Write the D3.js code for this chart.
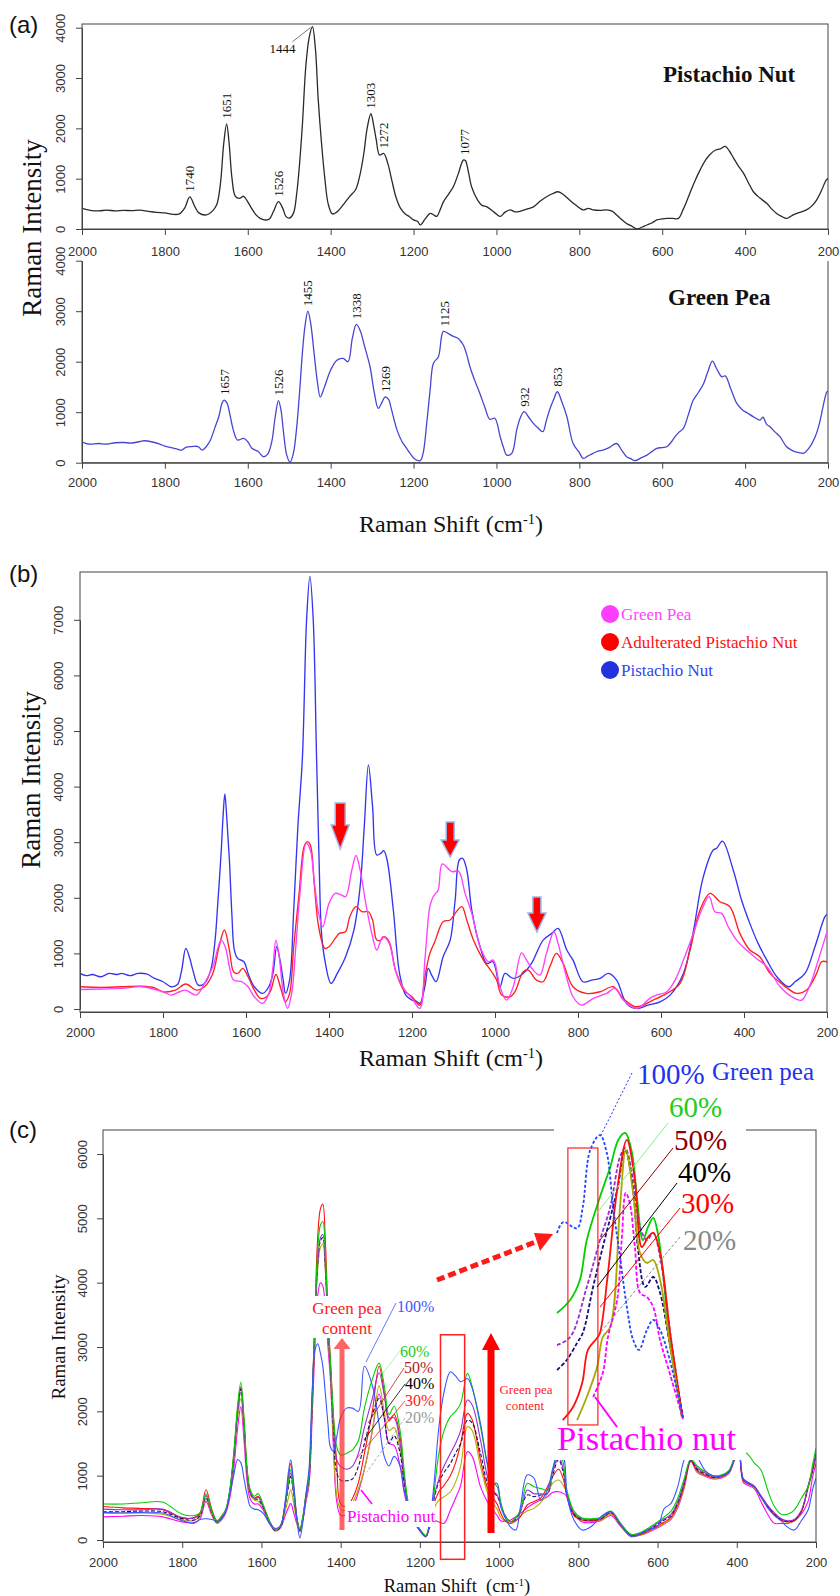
<!DOCTYPE html>
<html><head><meta charset="utf-8">
<script src="https://cdn.jsdelivr.net/npm/d3@7"></script>
<style>body{margin:0;background:#fff}</style>
</head><body><svg id="chart" width="840" height="1596"></svg>
<script>
// ---------------- DATA ----------------
const xTickVals = [2000,1800,1600,1400,1200,1000,800,600,400,200];
const yTicksA = [0,1000,2000,3000,4000];
const yTicksB = [0,1000,2000,3000,4000,5000,6000,7000];
const yTicksC = [0,1000,2000,3000,4000,5000,6000];

// (a) Pistachio nut spectrum [shift, intensity]
const pistachioA = [[2000,410],[1980,370],[1960,360],[1940,375],[1920,360],[1900,370],[1880,365],[1860,375],[1840,350],[1820,330],[1800,320],[1780,290],[1765,300],[1752,420],[1740,640],[1728,450],[1718,320],[1700,280],[1685,360],[1675,480],[1666,900],[1658,1700],[1651,2090],[1645,1700],[1638,1000],[1630,650],[1620,610],[1610,650],[1600,540],[1590,400],[1580,280],[1570,210],[1560,180],[1548,200],[1538,350],[1526,543],[1516,420],[1508,250],[1500,215],[1490,310],[1482,700],[1475,1300],[1468,2100],[1460,3230],[1452,3800],[1444,4020],[1437,3600],[1430,2570],[1422,1700],[1414,1000],[1406,500],[1396,300],[1385,340],[1370,480],[1355,640],[1340,780],[1330,1050],[1320,1500],[1312,2000],[1303,2290],[1296,2050],[1290,1770],[1282,1470],[1272,1500],[1262,1300],[1252,950],[1242,620],[1232,420],[1220,300],[1210,245],[1200,180],[1190,150],[1184,80],[1172,200],[1160,310],[1150,270],[1144,250],[1135,400],[1128,540],[1115,700],[1104,840],[1092,1100],[1080,1370],[1075,1360],[1068,1150],[1060,840],[1045,570],[1035,470],[1023,440],[1005,330],[991,250],[980,330],[967,380],[955,340],[943,350],[925,400],[911,440],[895,550],[879,640],[865,700],[851,740],[838,680],[823,570],[808,470],[791,380],[778,410],[767,380],[750,370],[734,380],[720,350],[710,280],[698,190],[686,110],[672,50],[661,0],[648,40],[637,80],[625,120],[613,180],[600,200],[589,210],[575,210],[561,210],[550,380],[540,570],[530,780],[520,975],[510,1150],[500,1310],[486,1470],[471,1570],[460,1590],[448,1640],[438,1550],[428,1410],[416,1250],[404,1110],[392,920],[380,740],[365,620],[348,510],[336,400],[324,310],[312,250],[300,210],[292,240],[284,280],[268,330],[252,380],[240,450],[228,570],[216,760],[204,975],[200,1000]];
// (a) Green pea spectrum
const greenPeaA = [[2000,415],[1985,370],[1960,380],[1940,370],[1920,395],[1900,400],[1880,390],[1860,420],[1850,435],[1830,410],[1810,360],[1800,330],[1785,300],[1770,270],[1760,250],[1748,310],[1735,320],[1720,320],[1710,250],[1700,320],[1690,450],[1680,680],[1670,910],[1662,1180],[1657,1240],[1650,1180],[1643,950],[1635,650],[1625,450],[1610,480],[1600,415],[1590,285],[1575,220],[1562,120],[1552,170],[1542,420],[1534,900],[1526,1230],[1520,1050],[1514,620],[1506,150],[1498,10],[1490,185],[1482,700],[1475,1400],[1468,2200],[1462,2700],[1455,3000],[1448,2750],[1440,2165],[1432,1600],[1425,1300],[1415,1500],[1400,1835],[1385,2030],[1370,2065],[1358,2000],[1348,2450],[1338,2740],[1328,2600],[1320,2360],[1305,1900],[1295,1400],[1285,1075],[1276,1200],[1269,1300],[1260,1250],[1255,1110],[1240,650],[1228,420],[1218,300],[1208,180],[1198,80],[1184,40],[1177,185],[1168,800],[1160,1440],[1152,1970],[1140,2100],[1128,2600],[1115,2550],[1104,2500],[1092,2460],[1080,2330],[1072,2150],[1064,1900],[1052,1620],[1040,1370],[1028,1100],[1016,860],[1004,880],[991,515],[983,300],[975,150],[963,185],[951,650],[942,900],[933,1010],[922,900],[911,780],[900,690],[888,615],[880,820],[872,1040],[862,1250],[853,1405],[842,1200],[830,910],[815,380],[800,200],[791,85],[780,130],[767,185],[755,230],[743,250],[728,300],[710,380],[698,250],[686,120],[676,80],[666,40],[650,100],[637,150],[625,220],[613,285],[600,300],[589,315],[579,400],[569,515],[560,600],[549,680],[537,950],[525,1240],[512,1400],[500,1570],[490,1800],[479,2010],[468,1850],[456,1700],[448,1720],[434,1450],[420,1175],[407,1050],[393,975],[378,900],[364,845],[357,900],[348,760],[340,710],[328,610],[316,515],[300,315],[290,260],[280,220],[270,200],[260,185],[245,300],[231,515],[220,800],[212,1110],[203,1400],[200,1420]];
const peakLabelsPistachio = [1740,1651,1526,1303,1272,1077];
const peakLabelMain = 1444;
const peakLabelsPea = [1657,1526,1455,1338,1269,1125,932,853];

// (b)
const pistachioB = [[2000,640],[1985,600],[1970,620],[1950,580],[1930,640],[1910,620],[1900,640],[1880,600],[1860,640],[1840,630],[1820,550],[1800,490],[1780,400],[1765,440],[1755,700],[1745,1090],[1735,900],[1728,700],[1715,430],[1700,460],[1685,700],[1675,1200],[1668,1900],[1660,2800],[1655,3500],[1651,3870],[1646,3400],[1640,2680],[1634,1700],[1628,1060],[1620,910],[1605,850],[1595,640],[1580,400],[1560,280],[1545,400],[1535,640],[1526,1120],[1518,880],[1510,500],[1505,280],[1495,520],[1485,1780],[1475,3280],[1464,4530],[1454,7000],[1446,7780],[1438,7000],[1430,4530],[1424,2700],[1418,1360],[1410,880],[1395,460],[1380,640],[1360,940],[1340,1420],[1325,2200],[1315,3280],[1305,4390],[1295,3640],[1285,2770],[1275,2800],[1268,2850],[1260,2680],[1245,1780],[1230,640],[1215,250],[1200,160],[1190,140],[1181,100],[1169,400],[1161,730],[1152,600],[1142,490],[1125,940],[1108,1240],[1096,1960],[1086,2680],[1078,2710],[1068,2500],[1056,1780],[1036,1120],[1020,820],[1005,850],[988,400],[976,640],[956,550],[932,640],[912,820],[884,1240],[863,1360],[848,1450],[827,1060],[812,880],[788,490],[767,520],[747,550],[727,640],[707,520],[683,100],[659,10],[631,70],[602,130],[578,250],[546,640],[523,1360],[499,2350],[474,2860],[466,2890],[452,3020],[426,2500],[406,1960],[386,1540],[366,1180],[345,880],[321,580],[292,400],[277,490],[253,640],[229,1120],[205,1660],[200,1700]];
const adulteratedB = [[2000,400],[1950,390],[1900,400],[1850,410],[1820,380],[1800,310],[1770,340],[1745,450],[1720,340],[1700,400],[1680,640],[1665,1120],[1652,1420],[1640,1060],[1630,670],[1620,640],[1608,730],[1595,580],[1580,340],[1565,190],[1550,220],[1540,340],[1528,620],[1515,340],[1505,130],[1495,280],[1485,1120],[1472,2080],[1460,2920],[1452,3010],[1445,2950],[1435,2200],[1425,1480],[1410,1090],[1400,1120],[1385,1270],[1375,1360],[1360,1390],[1350,1660],[1335,1840],[1320,1750],[1305,1750],[1295,1600],[1285,1240],[1275,1240],[1268,1300],[1255,1210],[1240,700],[1220,340],[1200,220],[1181,70],[1169,580],[1157,1000],[1145,1210],[1125,1570],[1108,1600],[1096,1720],[1080,1840],[1068,1600],[1052,1240],[1028,880],[1008,670],[996,520],[984,250],[964,220],[952,310],[932,670],[920,700],[900,520],[884,490],[868,760],[852,1000],[836,820],[812,400],[780,280],[747,310],[715,400],[691,190],[659,40],[619,160],[586,280],[554,460],[530,1060],[506,1780],[482,2080],[458,1930],[434,1840],[410,1360],[386,1060],[362,940],[337,640],[305,430],[273,280],[249,340],[225,640],[213,850],[200,850]];
const greenPeaB = [[2000,350],[1950,360],[1900,370],[1850,400],[1800,310],[1780,250],[1760,310],[1745,340],[1720,250],[1700,460],[1680,760],[1660,1240],[1650,1120],[1640,760],[1630,520],[1610,490],[1595,400],[1580,220],[1560,100],[1545,280],[1535,760],[1528,1240],[1520,940],[1510,280],[1500,10],[1490,280],[1480,1120],[1470,2080],[1455,2980],[1445,2860],[1435,2260],[1425,1720],[1415,1480],[1400,1900],[1385,2080],[1370,2050],[1360,2020],[1345,2500],[1335,2760],[1325,2500],[1310,1840],[1295,1300],[1285,1060],[1270,1300],[1255,1180],[1240,700],[1220,370],[1200,190],[1181,10],[1169,880],[1157,1840],[1149,2020],[1137,2140],[1127,2610],[1104,2470],[1088,2480],[1072,2080],[1056,1720],[1036,1120],[1016,850],[1004,880],[988,400],[972,160],[956,400],[936,1010],[924,880],[908,700],[892,610],[876,1000],[858,1390],[848,1180],[828,580],[812,220],[792,70],[763,190],[731,280],[711,370],[691,160],[659,10],[627,190],[611,250],[586,310],[566,520],[546,880],[522,1360],[502,1780],[484,2020],[470,1750],[454,1720],[438,1480],[418,1240],[394,1060],[370,910],[345,760],[313,400],[285,220],[261,160],[241,430],[221,880],[200,1390]];
const legendB = ["Green Pea","Adulterated Pistachio Nut","Pistachio Nut"];
// red arrows in (b): shift, intensity of top, intensity of tip
const arrowsB = [[1373,3705,2878],[1108,3363,2734],[899,2014,1385]];

// (c) mixtures, on a shared shift grid
const shiftC = [2000,1950,1900,1850,1800,1770,1755,1740,1725,1712,1700,1690,1680,1670,1660,1652,1644,1636,1628,1618,1608,1595,1580,1565,1552,1540,1532,1526,1519,1510,1503,1495,1488,1480,1472,1465,1458,1451,1445,1439,1432,1426,1418,1410,1400,1385,1370,1355,1340,1320,1303,1290,1278,1265,1250,1240,1230,1215,1200,1185,1175,1165,1152,1139,1123,1110,1097,1080,1068,1047,1030,1017,1005,996,985,971,958,946,929,912,895,878,865,850,838,828,811,790,768,743,718,693,667,642,620,600,583,566,549,533,516,500,480,460,440,420,406,395,384,372,356,339,322,305,288,272,255,237,220,208,200];
const pea100C = [430,420,430,420,300,260,320,330,320,290,330,450,700,1000,1250,1200,950,700,520,480,470,410,260,180,220,600,1050,1245,900,300,30,300,700,1100,2300,2950,3050,2900,2700,2300,1800,1450,1380,1600,1900,2050,2050,2000,2700,2400,1800,1300,1150,1300,1150,780,560,300,150,50,300,830,1760,2300,2615,2550,2460,2510,2360,1810,1190,880,880,520,350,200,155,520,1010,960,620,780,1090,1350,1300,673,310,155,207,363,440,233,52,104,170,207,490,570,830,1245,1450,1300,1080,1000,990,1060,1260,1400,950,880,829,673,500,380,300,200,155,300,466,800,960];
const pea60C = [560,560,580,590,400,380,420,720,450,300,380,480,780,1350,2100,2450,1900,1100,780,680,720,540,300,160,220,560,900,1090,800,330,170,380,700,1000,2200,3400,4500,4900,4950,4500,3400,2800,1900,1450,1320,1350,1400,1550,2050,2500,2750,2400,1950,2080,1700,1100,600,320,170,70,280,700,1350,1700,1917,2000,2124,2590,2383,1761,1191,907,829,600,363,285,350,466,880,829,800,777,1100,1400,1200,750,450,340,330,350,450,260,90,120,200,280,360,450,650,950,1260,1150,1060,1000,1010,1080,1290,1450,1380,1330,1200,1088,777,520,400,400,466,650,829,1191,1425];
const pea50C = [480,470,470,480,350,340,400,690,430,290,360,460,750,1300,2000,2300,1800,1050,740,650,660,520,290,160,210,540,860,1040,760,310,160,360,650,950,2100,3300,4300,4700,4750,4300,3300,2700,1800,1250,1140,1100,1150,1350,1750,2200,2600,2250,1900,1900,1500,1000,580,310,160,60,260,650,950,1150,1347,1500,1700,2176,2100,1554,1000,780,700,560,380,285,340,440,777,720,720,720,1050,1300,1100,700,420,330,320,340,440,250,80,110,180,260,330,400,600,900,1250,1120,1040,990,1000,1070,1270,1400,960,900,840,690,540,420,330,300,320,460,840,1120,1350];
const pea40C = [440,440,450,440,330,310,380,660,420,280,350,450,740,1280,2000,2350,1800,1050,730,640,630,500,280,150,200,520,820,985,720,300,150,350,650,950,2100,3300,4300,4650,4700,4300,3300,2700,1700,1050,930,920,950,1150,1500,1950,2200,1900,1500,1620,1350,900,560,300,150,60,250,620,900,1050,1191,1350,1500,1865,1820,1347,900,760,680,550,380,285,330,466,700,673,700,720,1000,1250,1050,680,400,320,310,330,430,240,80,100,170,240,310,380,580,880,1240,1100,1030,980,990,1060,1260,1400,950,890,830,680,530,410,320,290,310,450,830,1100,1340];
const pea30C = [520,500,490,470,340,350,420,780,470,300,370,460,760,1300,2050,2380,1850,1050,740,650,680,520,300,160,220,580,960,1190,850,320,160,370,680,1000,2200,3500,4700,5150,5220,4700,3500,2800,1900,1200,560,520,650,900,1350,2000,2700,2300,1850,1950,1600,1000,580,310,160,60,250,560,750,850,1000,1200,1502,1968,1870,1243,820,670,560,420,300,259,300,363,544,600,650,829,985,1100,950,650,380,310,300,320,420,230,70,90,150,220,280,350,550,850,1230,1080,1010,970,980,1050,1250,1380,930,880,829,673,520,400,311,285,300,440,829,1100,1347];
const pea20C = [415,420,420,400,310,300,370,640,400,270,340,440,720,1250,1900,2200,1700,1000,700,620,600,490,280,150,200,450,650,780,580,270,140,340,620,900,2000,3200,4200,4550,4600,4200,3200,2600,1500,700,480,470,580,800,1100,1700,2400,2000,1700,1750,1400,900,540,290,150,50,230,480,620,673,750,900,1150,1761,1700,1140,750,590,480,350,290,260,300,380,450,492,580,725,880,932,850,725,420,300,290,300,400,220,60,80,140,200,260,330,520,820,1230,1060,1000,960,970,1040,1240,1380,930,870,820,660,510,390,300,280,290,430,800,1080,1300];
const pistachioC = [360,370,380,360,280,270,330,600,380,260,320,420,650,1100,1750,2070,1550,900,630,560,560,460,260,140,190,380,500,570,430,240,130,320,580,850,1900,3000,3800,4000,3950,3600,3000,2500,1400,600,380,400,500,750,1100,1700,2270,1900,1500,1470,1150,750,500,280,140,50,200,300,280,259,466,650,850,1373,1300,829,600,480,380,300,290,311,360,414,500,570,620,673,740,751,725,673,400,280,270,300,380,210,60,80,130,190,250,320,500,800,1220,1050,990,950,960,1030,1240,1350,900,850,800,600,400,259,259,259,300,400,600,1000,1191];
const labelsC = ["100%","60%","50%","40%","30%","20%"];

// (c) inset: zoomed view of 1200–980 cm-1
const inset100 = [[1200,1945],[1189,2025],[1165,1980],[1155,2135],[1142,2553],[1125,2663],[1113,2531],[1102,2135],[1090,1769],[1078,1402],[1067,1160],[1057,1087],[1043,1233],[1032,1307],[1020,1233],[1003,1013],[980,588]];
const inset60 = [[1200,1358],[1177,1453],[1160,1600],[1148,1893],[1125,2209],[1107,2429],[1093,2627],[1081,2678],[1069,2531],[1060,2187],[1050,1893],[1041,1989],[1032,2055],[1024,1945],[1015,1651],[1006,1285],[982,600]];
const inset50 = [[1200,1123],[1177,1182],[1148,1549],[1125,1893],[1107,2135],[1090,2502],[1081,2568],[1067,2333],[1055,1989],[1043,1893],[1032,1945],[1020,1769],[1002,1200],[981,594]];
const inset40 = [[1200,940],[1183,1013],[1165,1138],[1155,1211],[1137,1549],[1120,1842],[1095,2260],[1081,2553],[1067,2260],[1059,1842],[1046,1549],[1032,1622],[1020,1505],[1002,1100],[980,590]];
const inset30 = [[1190,573],[1172,669],[1156,845],[1146,1087],[1130,1175],[1125,1211],[1111,1651],[1095,2260],[1078,2627],[1064,2333],[1052,1842],[1041,1915],[1032,1945],[1020,1798],[1002,1200],[981,600]];
const inset20 = [[1165,573],[1148,742],[1130,962],[1120,1182],[1107,1255],[1090,2135],[1080,2553],[1067,2238],[1055,1798],[1043,1725],[1032,1747],[1020,1600],[1002,1100],[982,590]];
const insetPistachio = [[1137,742],[1120,918],[1111,1182],[1095,1453],[1087,1893],[1080,2238],[1073,2165],[1064,1842],[1055,1505],[1043,1475],[1032,1402],[1020,1160],[1002,900],[980,580]];

// ---------------- DRAW ----------------
const svg = d3.select("#chart");
svg.append("rect").attr("width",840).attr("height",1596).attr("fill","#fff");
const serif = "'Liberation Serif','Times New Roman',serif";
const sans = "'Liberation Sans',Arial,sans-serif";
const defs = svg.append("defs");
function clip(id,x,y,w,h){defs.append("clipPath").attr("id",id).append("rect").attr("x",x).attr("y",y).attr("width",w).attr("height",h);}

const xA = d3.scaleLinear().domain([2000,200]).range([82,828]);
const yA1 = d3.scaleLinear().domain([0,4000]).range([229,27.7]);
const yA2 = d3.scaleLinear().domain([0,4000]).range([462.7,260.7]);
const xB = d3.scaleLinear().domain([2000,200]).range([80,827]);
const yB = d3.scaleLinear().domain([0,7000]).range([1009,619.8]);
const xC = d3.scaleLinear().domain([2000,200]).range([103,816]);
const yC = d3.scaleLinear().domain([0,6000]).range([1540,1154]);
const xI = d3.scaleLinear().domain([1200,980]).range([557,683]);
const yI = d3.scaleLinear().domain([500,2700]).range([1430,1130]);

clip("cA1",82,22,746,207); clip("cA2",82,255,746,208); clip("cB",80,572,747,440); clip("cC",103,1130,713,412);

function drawLine(data,x,y,color,w,dash,cp){
  svg.append("path").datum(data)
    .attr("d",d3.line().x(d=>x(d[0])).y(d=>y(d[1])).curve(d3.curveCatmullRom.alpha(0.5)))
    .attr("fill","none").attr("stroke",color).attr("stroke-width",w)
    .attr("stroke-linejoin","round")
    .attr("stroke-dasharray",dash||null).attr("clip-path",cp?`url(#${cp})`:null);
}
function axes(x,y,yTicks,axisY,axisX,pad,yOff,fs){
  const gx = svg.append("g").attr("transform",`translate(0,${axisY})`)
    .call(d3.axisBottom(x).tickValues(xTickVals).tickSize(6).tickSizeOuter(0).tickPadding(pad).tickFormat(d3.format("d")));
  const gy = svg.append("g").attr("transform",`translate(${axisX},0)`)
    .call(d3.axisLeft(y).tickValues(yTicks).tickSize(6).tickSizeOuter(0).tickFormat(d3.format("d")));
  gy.selectAll(".tick text").attr("transform","rotate(-90)").attr("x",0).attr("y",-yOff).attr("dy",0).attr("text-anchor","middle");
  [gx,gy].forEach(g=>{g.attr("font-family",sans).attr("font-size",fs);
    g.selectAll("text").attr("fill","#333"); g.selectAll("line,path").attr("stroke","#444");});
}
function vtext(x,y,txt,fs,anchor){
  return svg.append("text").attr("transform",`translate(${x},${y}) rotate(-90)`)
    .attr("text-anchor",anchor||"middle").attr("font-family",serif).attr("font-size",fs).attr("fill","#111").text(txt);
}
function shiftTitle(cx,by,fs,gap){
  const t = svg.append("text").attr("x",cx).attr("y",by).attr("text-anchor","middle")
    .attr("font-family",serif).attr("font-size",fs).attr("fill","#111");
  t.append("tspan").text(gap?"Raman Shift\u00a0\u00a0(cm":"Raman Shift (cm");
  t.append("tspan").attr("baseline-shift","super").attr("font-size","0.6em").text("-1");
  t.append("tspan").text(")");
}
function panelTag(x,y,t){svg.append("text").attr("x",x).attr("y",y).attr("font-family",sans).attr("font-size",24).attr("fill","#111").text(t);}
function peakVal(data,cm){return d3.max(data.filter(d=>Math.abs(d[0]-cm)<=6),d=>d[1]);}

// ===== Panel (a) =====
panelTag(9,33,"(a)");
svg.append("rect").attr("x",82).attr("y",24).attr("width",746).attr("height",205).attr("fill","none").attr("stroke","#444");
svg.append("path").attr("d","M828,261V462.7H82V261").attr("fill","none").attr("stroke","#444");
drawLine(pistachioA,xA,yA1,"#2a2a2a",1.3,null,"cA1");
drawLine(greenPeaA,xA,yA2,"#4646d2",1.3,null,"cA2");
axes(xA,yA1,yTicksA,229,82,12,17,13);
axes(xA,yA2,yTicksA,462.7,82,9,17,13);
peakLabelsPistachio.forEach(cm=>{
  svg.append("text").attr("transform",`translate(${xA(cm)},${yA1(peakVal(pistachioA,cm))-5}) rotate(-90)`)
    .attr("dy","0.35em").attr("font-family",serif).attr("font-size",13).attr("fill","#111").text(cm);
});
{
  const px = xA(peakLabelMain), py = yA1(peakVal(pistachioA,peakLabelMain));
  svg.append("line").attr("x1",px-20).attr("y1",py+15).attr("x2",px-2).attr("y2",py+1).attr("stroke","#555").attr("stroke-width",0.8);
  svg.append("text").attr("x",px-43).attr("y",py+26).attr("font-family",serif).attr("font-size",13).attr("fill","#111").text(peakLabelMain);
}
peakLabelsPea.forEach(cm=>{
  svg.append("text").attr("transform",`translate(${xA(cm)},${yA2(peakVal(greenPeaA,cm))-5}) rotate(-90)`)
    .attr("dy","0.35em").attr("font-family",serif).attr("font-size",13).attr("fill","#111").text(cm);
});
svg.append("text").attr("x",663).attr("y",82).attr("font-family",serif).attr("font-weight","bold").attr("font-size",23).attr("fill","#111").text("Pistachio Nut");
svg.append("text").attr("x",668).attr("y",305).attr("font-family",serif).attr("font-weight","bold").attr("font-size",23).attr("fill","#111").text("Green Pea");
vtext(41,228,"Raman Intensity",27);
shiftTitle(451,532,24);

// ===== Panel (b) =====
panelTag(9,582,"(b)");
svg.append("rect").attr("x",80).attr("y",572).attr("width",747).attr("height",440).attr("fill","none").attr("stroke","#444");
const colB = ["#ff40ff","#ff2020","#3535f0"];
drawLine(pistachioB,xB,yB,colB[2],1.35,null,"cB");
drawLine(adulteratedB,xB,yB,colB[1],1.35,null,"cB");
drawLine(greenPeaB,xB,yB,colB[0],1.35,null,"cB");
axes(xB,yB,yTicksB,1012,80,10,17,13);
const arrowShape = [[10,24],[8,17],[8,19]];
arrowsB.forEach((a,i)=>{
  const x = xB(a[0]), y0 = yB(a[1]), y1 = yB(a[2]), sw = arrowShape[i][0]/2, hl = arrowShape[i][1], hw = 9;
  svg.append("path").attr("d",`M${x-sw},${y0}H${x+sw}V${y1-hl}H${x+hw}L${x},${y1}L${x-hw},${y1-hl}H${x-sw}Z`)
    .attr("fill","#ff0000").attr("stroke","#9ab8ea").attr("stroke-width",1.5);
});
const legYs = [614,642,670];
legendB.forEach((t,i)=>{
  svg.append("circle").attr("cx",610).attr("cy",legYs[i]).attr("r",9).attr("fill",["#ff3dff","#ff0000","#2233dd"][i]);
  svg.append("text").attr("x",621).attr("y",legYs[i]+6).attr("font-family",serif).attr("font-size",17)
    .attr("fill",["#ff44ff","#ff1010","#3344ee"][i]).text(t);
});
vtext(40,780,"Raman Intensity",27);
shiftTitle(451,1066,24);

// ===== Panel (c) =====
panelTag(9,1138,"(c)");
const seriesC = [
  [pea100C,"#3a55ff",null],[pea60C,"#00d000",null],[pea50C,"#9a2fd0",null],
  [pea40C,"#101060","4,2"],[pea30C,"#ff1010",null],[pea20C,"#b0b000",null],[pistachioC,"#ff00ff",null]
];
seriesC.slice().reverse().forEach(s=>{
  drawLine(shiftC.map((c,i)=>[c,s[0][i]]),xC,yC,s[1],1.1,s[2],"cC");
});
svg.append("rect").attr("x",103).attr("y",1130).attr("width",713).attr("height",412).attr("fill","none").attr("stroke","#444");
// white region behind the inset
svg.append("rect").attr("x",554).attr("y",1046).attr("width",192).attr("height",414).attr("fill","#fff");
// label boxes
svg.append("rect").attr("x",310).attr("y",1296).attr("width",74).attr("height",42).attr("fill","#fff");
svg.append("rect").attr("x",345).attr("y",1501).attr("width",90).attr("height",26).attr("fill","#fff");
axes(xC,yC,yTicksC,1542,103,10,16,13);

// annotations main (c)
svg.append("text").attr("x",347).attr("y",1314).attr("text-anchor","middle").attr("font-family",serif).attr("font-size",17).attr("fill","#ff1a1a").text("Green pea");
svg.append("text").attr("x",347).attr("y",1334).attr("text-anchor","middle").attr("font-family",serif).attr("font-size",17).attr("fill","#ff1a1a").text("content");
svg.append("path").attr("d","M339.5,1530V1349H333.5L342,1338L350.5,1349H344.5V1530Z").attr("fill","rgba(255,40,40,0.72)");
svg.append("text").attr("x",347).attr("y",1522).attr("font-family",serif).attr("font-size",17).attr("fill","#ff00ff").text("Pistachio nut");
svg.append("line").attr("x1",372).attr("y1",1504).attr("x2",361).attr("y2",1490).attr("stroke","#ff00ff").attr("stroke-width",1.5);
const labColC = ["#4455ff","#22cc22","#b22222","#000","#ff2020","#999"];
const labPosC = [[397,1312],[400,1357],[404,1373],[405,1389],[405,1406],[405,1423]];
const leadC = [[396,1303,366,1362],[400,1351,383,1373],[404,1368,368,1423],[405,1384,364,1440],[405,1401,357,1458],[405,1418,367,1472]];
labelsC.forEach((t,i)=>{
  svg.append("line").attr("x1",leadC[i][0]).attr("y1",leadC[i][1]).attr("x2",leadC[i][2]).attr("y2",leadC[i][3])
    .attr("stroke",i==1?"#99ee99":labColC[i]).attr("stroke-width",0.8).attr("stroke-dasharray",i==5?"3,2":null);
  svg.append("text").attr("x",labPosC[i][0]).attr("y",labPosC[i][1]).attr("font-family",serif).attr("font-size",16).attr("fill",labColC[i]).text(t);
});
svg.append("rect").attr("x",xC(1148)).attr("y",yC(3190)).attr("width",xC(1087)-xC(1148)).attr("height",yC(-300)-yC(3190))
  .attr("fill","none").attr("stroke","#ff2020").attr("stroke-width",1.5);
svg.append("path").attr("d","M487.5,1533V1350H482L491,1333L500,1350H494.5V1533Z").attr("fill","#ff0000");
svg.append("text").attr("x",526).attr("y",1394).attr("text-anchor","middle").attr("font-family",serif).attr("font-size",13).attr("fill","#ff2020").text("Green pea");
svg.append("text").attr("x",525).attr("y",1410).attr("text-anchor","middle").attr("font-family",serif).attr("font-size",13).attr("fill","#ff2020").text("content");
// dashed arrow toward inset
svg.append("line").attr("x1",437).attr("y1",1280).attr("x2",538).attr("y2",1241).attr("stroke","#ff1a1a").attr("stroke-width",5).attr("stroke-dasharray","8,4");
svg.append("path").attr("d","M553,1234L534,1233L540,1251Z").attr("fill","#ff1a1a");

// inset
const insetSeries = [
  [inset60,"#00d000",null],[inset50,"#9a2fd0","4,2"],[inset40,"#101080","4,2"],
  [inset30,"#ff1010",null],[inset20,"#a8a800",null],[insetPistachio,"#ff00ff","4,2"],[inset100,"#2244ff","3,2"]
];
insetSeries.forEach(s=>drawLine(s[0],xI,yI,s[1],1.8,s[2],null));
svg.append("rect").attr("x",xI(1181)).attr("y",yI(2568)).attr("width",xI(1128.6)-xI(1181)).attr("height",yI(537)-yI(2568))
  .attr("fill","none").attr("stroke","#ff2020").attr("stroke-width",1.2);
const labColI = ["#2233ee","#22cc22","#8b0000","#000","#ff0000","#888"];
const labPosI = [[637,1084],[669,1117],[674,1150],[678,1182],[681,1213],[683,1250]];
const leadI = [[632,1073,600,1137],[668,1123,597,1213],[673,1148,600,1240],[677,1183,597,1287],[680,1208,600,1307],[680,1237,600,1333]];
labelsC.forEach((t,i)=>{
  svg.append("line").attr("x1",leadI[i][0]).attr("y1",leadI[i][1]).attr("x2",leadI[i][2]).attr("y2",leadI[i][3])
    .attr("stroke",i==1?"#88ee88":labColI[i]).attr("stroke-width",1).attr("stroke-dasharray",i==0?"2,2":(i==5?"3,2":null));
  svg.append("text").attr("x",labPosI[i][0]).attr("y",labPosI[i][1]).attr("font-family",serif).attr("font-size",29).attr("fill",labColI[i]).text(t);
});
svg.append("text").attr("x",712).attr("y",1080).attr("font-family",serif).attr("font-size",25).attr("fill","#2233ee").text("Green pea");
svg.append("line").attr("x1",617).attr("y1",1427).attr("x2",595).attr("y2",1397).attr("stroke","#ff00ff").attr("stroke-width",2);
svg.append("text").attr("x",557).attr("y",1450).attr("font-family",serif).attr("font-size",34.5).attr("fill","#ff00ff").text("Pistachio nut");

vtext(65,1337,"Raman Intensity",19);
shiftTitle(457,1592,18.5,true);
</script></body></html>
